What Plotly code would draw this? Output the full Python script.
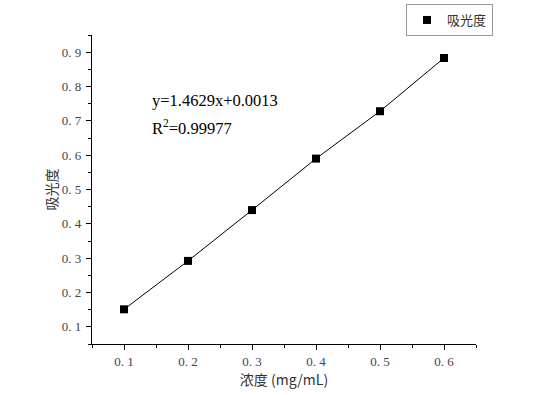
import plotly.graph_objects as go

concentration = [0.1, 0.2, 0.3, 0.4, 0.5, 0.6]
absorbance = [0.151, 0.292, 0.440, 0.590, 0.728, 0.883]
series_name = "吸光度"
x_title = "浓度 (mg/mL)"
y_title = "吸光度"
equation = "y=1.4629x+0.0013"
r2_text = "R<sup>2</sup>=0.99977"
x_tickvals = [0.1, 0.2, 0.3, 0.4, 0.5, 0.6]
x_ticktext = ["0. 1", "0. 2", "0. 3", "0. 4", "0. 5", "0. 6"]
y_tickvals = [0.1, 0.2, 0.3, 0.4, 0.5, 0.6, 0.7, 0.8, 0.9]
y_ticktext = ["0. 1", "0. 2", "0. 3", "0. 4", "0. 5", "0. 6", "0. 7", "0. 8", "0. 9"]

serif = "Liberation Serif, Noto Sans CJK SC, serif"
cjk = "Noto Sans CJK SC, Liberation Serif, serif"

fig = go.Figure()
fig.add_trace(go.Scatter(
    x=concentration, y=absorbance, mode="lines",
    line=dict(color="black", width=1), showlegend=False, hoverinfo="skip",
))
fig.add_trace(go.Scatter(
    x=concentration, y=absorbance, mode="markers", name=series_name,
    marker=dict(symbol="square", size=8, color="black"),
    showlegend=True,
))

axis_common = dict(
    showline=True, linecolor="black", linewidth=1.3, mirror=False,
    showgrid=False, zeroline=False, automargin=False,
    ticks="outside", ticklen=5, tickwidth=1.3, tickcolor="black",
    tickfont=dict(family=serif, size=13, color="#444"),
    minor=dict(ticks="outside", ticklen=3, tickwidth=1, tickcolor="black", dtick=0.05, tick0=0.05),
)

fig.update_xaxes(
    range=[0.05, 0.65], tickmode="array", tickvals=x_tickvals, ticktext=x_ticktext,
    title=dict(text=x_title, font=dict(family=cjk, size=14, color="#333"), standoff=7),
    **axis_common,
)
fig.update_yaxes(
    range=[0.05, 0.95], tickmode="array", tickvals=y_tickvals, ticktext=y_ticktext,
    title=dict(text=y_title, font=dict(family=cjk, size=14, color="#333"), standoff=0),
    ticklabelstandoff=2,
    **axis_common,
)

fig.add_annotation(
    x=0.14, y=0.758, xref="x", yref="y", xanchor="left", yanchor="middle",
    text=equation, showarrow=False, font=dict(family=serif, size=16.5, color="black"),
)
fig.add_annotation(
    x=0.14, y=0.682, xref="x", yref="y", xanchor="left", yanchor="middle",
    text=r2_text, showarrow=False, font=dict(family=serif, size=16.5, color="black"),
)

fig.update_layout(
    width=546, height=395,
    margin=dict(l=92, r=70, t=35, b=51, autoexpand=False),
    paper_bgcolor="white", plot_bgcolor="white",
    legend=dict(
        x=406 / 546, y=1 - 4 / 395, xref="container", yref="container", xanchor="left", yanchor="top",
        bordercolor="#999", borderwidth=1, bgcolor="white",
        font=dict(family=cjk, size=13, color="#333"),
        tracegroupgap=0, itemwidth=30,
    ),
    showlegend=True,
)

fig.write_html("out.html", config={"displayModeBar": False},
               post_script="document.body.style.margin='0';")
